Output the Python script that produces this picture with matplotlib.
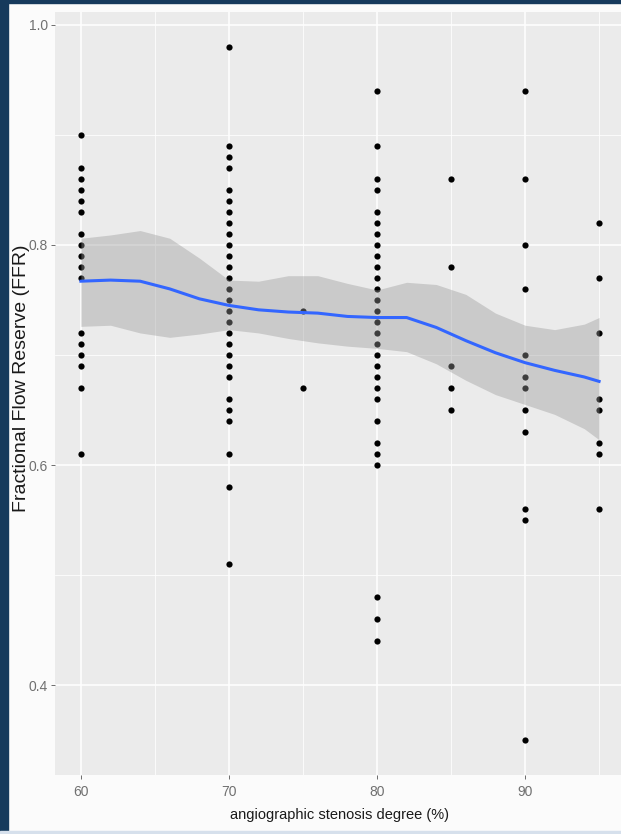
import matplotlib
matplotlib.use("Agg")
import matplotlib.pyplot as plt
from matplotlib.patches import Rectangle
from matplotlib.ticker import FixedLocator, FormatStrFormatter

# FFR measurements grouped by angiographic stenosis degree (%)
ffr_60 = [0.90, 0.87, 0.86, 0.85, 0.84, 0.83, 0.81, 0.80, 0.79, 0.78, 0.77,
          0.72, 0.71, 0.70, 0.69, 0.67, 0.61]
ffr_70 = [0.98, 0.89, 0.88, 0.87, 0.85, 0.84, 0.83, 0.82, 0.81, 0.80, 0.79,
          0.78, 0.77, 0.76, 0.75, 0.74, 0.73, 0.72, 0.71, 0.70, 0.69, 0.68,
          0.66, 0.65, 0.64, 0.61, 0.58, 0.51]
ffr_75 = [0.74, 0.67]
ffr_80 = [0.94, 0.89, 0.86, 0.85, 0.83, 0.82, 0.81, 0.80, 0.79, 0.78, 0.77,
          0.76, 0.75, 0.74, 0.73, 0.72, 0.71, 0.70, 0.69, 0.68, 0.67, 0.66,
          0.64, 0.62, 0.61, 0.60, 0.48, 0.46, 0.44]
ffr_85 = [0.86, 0.78, 0.69, 0.67, 0.65]
ffr_90 = [0.94, 0.86, 0.80, 0.76, 0.70, 0.68, 0.67, 0.65, 0.63, 0.56, 0.55, 0.35]
ffr_95 = [0.82, 0.77, 0.72, 0.66, 0.65, 0.62, 0.61, 0.56]

groups = {60: ffr_60, 70: ffr_70, 75: ffr_75, 80: ffr_80,
          85: ffr_85, 90: ffr_90, 95: ffr_95}

# loess smooth with its confidence band
smooth_x = [60, 62, 64, 66, 68, 70, 72, 74, 76, 78, 80, 82, 84, 86, 88, 90, 92, 94, 95]
smooth_fit = [0.767, 0.768, 0.767, 0.760, 0.751, 0.745, 0.741, 0.739, 0.738, 0.735,
              0.734, 0.734, 0.725, 0.713, 0.702, 0.693, 0.686, 0.680, 0.676]
smooth_hi = [0.806, 0.809, 0.813, 0.806, 0.788, 0.768, 0.767, 0.772, 0.772, 0.765,
             0.759, 0.766, 0.764, 0.755, 0.738, 0.727, 0.723, 0.728, 0.734]
smooth_lo = [0.726, 0.727, 0.720, 0.716, 0.719, 0.723, 0.720, 0.715, 0.711, 0.708,
             0.706, 0.703, 0.692, 0.677, 0.664, 0.655, 0.646, 0.633, 0.623]

x_major = [60, 70, 80, 90]
x_minor = [65, 75, 85, 95]
y_major = [0.4, 0.6, 0.8, 1.0]
y_minor = [0.5, 0.7, 0.9]

plt.rcParams["font.family"] = ["Liberation Sans", "DejaVu Sans"]

W, H = 621, 834
fig = plt.figure(figsize=(W / 100, H / 100), dpi=100, facecolor="#fbfbfb")
ax = fig.add_axes([55 / W, 1 - 775 / H, 570 / W, 763 / H])
ax.set_facecolor("#ebebeb")
ax.set_xlim(58.25, 96.75)
ax.set_ylim(0.3185, 1.0115)

ax.xaxis.set_major_locator(FixedLocator(x_major))
ax.xaxis.set_minor_locator(FixedLocator(x_minor))
ax.yaxis.set_major_locator(FixedLocator(y_major))
ax.yaxis.set_minor_locator(FixedLocator(y_minor))
ax.yaxis.set_major_formatter(FormatStrFormatter("%.1f"))
ax.grid(which="major", color="white", lw=1.1)
ax.grid(which="minor", color="white", lw=0.55)
ax.set_axisbelow(True)
for s in ax.spines.values():
    s.set_visible(False)
ax.tick_params(which="major", length=3, width=0.6, color="#555555",
               labelcolor="#707070", labelsize=10)
ax.tick_params(axis="y", pad=2)
ax.tick_params(axis="x", pad=4)
ax.tick_params(which="minor", length=0)

for deg, vals in groups.items():
    ax.scatter([deg] * len(vals), vals, s=20, color="black", linewidths=0, zorder=2)

ax.fill_between(smooth_x, smooth_lo, smooth_hi, color="#999999", alpha=0.4,
                linewidth=0, zorder=3)
ax.plot(smooth_x, smooth_fit, color="#3366ff", lw=2.2, zorder=4)

fig.text(340 / W, 1 - 815 / H, "angiographic stenosis degree (%)", ha="center",
         va="center", fontsize=10.5, color="#1a1a1a")
fig.text(22 / W, 1 - 378 / H, "Fractional Flow Reserve (FFR)", ha="center",
         va="center", rotation=90, fontsize=14, color="#1a1a1a")

# dark frame on the left and top, pale strip at the bottom
fig.patches.append(Rectangle((0, 0), 8 / W, 1, transform=fig.transFigure,
                             color="#163a5c", zorder=10))
fig.patches.append(Rectangle((0, 1 - 3 / H), 1, 3 / H, transform=fig.transFigure,
                             color="#163a5c", zorder=10))
fig.patches.append(Rectangle((0, 0), 1, 3 / H, transform=fig.transFigure,
                             color="#d6e0ec", zorder=10))

fig.savefig("out.png", dpi=100, facecolor=fig.get_facecolor())
